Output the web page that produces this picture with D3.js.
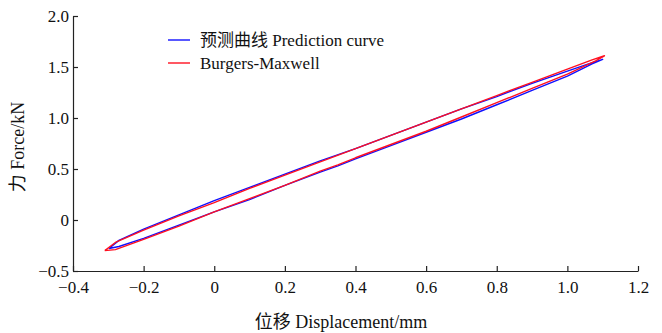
<!DOCTYPE html>
<html>
<head>
<meta charset="utf-8">
<script src="https://cdn.jsdelivr.net/npm/d3@7"></script>
<style>
  body { margin: 0; background: #fff; }
  text { font-family: "Liberation Serif", "Times New Roman", "Noto Sans CJK SC", serif; fill: #111; }
</style>
</head>
<body>
<script>
// loop branches: [displacement mm, force kN]
var predUpper = [[-0.298,-0.28],[-0.27,-0.20],[-0.2,-0.09],[-0.1,0.05],[0,0.19],[0.1,0.32],[0.2,0.45],[0.3,0.58],
  [0.4,0.70],[0.5,0.83],[0.6,0.96],[0.7,1.09],[0.8,1.21],[0.9,1.34],[1.0,1.46],[1.06,1.53],[1.10,1.575]];
var predLower = [[1.10,1.575],[1.07,1.53],[1.0,1.41],[0.9,1.27],[0.8,1.13],[0.7,0.99],[0.6,0.86],[0.5,0.73],
  [0.4,0.60],[0.35,0.53],[0.3,0.47],[0.2,0.34],[0.1,0.20],[0,0.08],[-0.1,-0.05],[-0.2,-0.18],[-0.27,-0.26],[-0.298,-0.28]];
var bmUpper = [[-0.31,-0.30],[-0.28,-0.22],[-0.2,-0.10],[-0.1,0.04],[0,0.17],[0.1,0.31],[0.2,0.44],[0.3,0.57],
  [0.4,0.70],[0.5,0.83],[0.6,0.96],[0.7,1.09],[0.8,1.22],[0.9,1.35],[1.0,1.48],[1.07,1.57],[1.105,1.61]];
var bmLower = [[1.105,1.61],[1.08,1.56],[1.0,1.43],[0.9,1.29],[0.8,1.15],[0.7,1.01],[0.6,0.87],[0.5,0.74],
  [0.4,0.61],[0.35,0.54],[0.3,0.48],[0.2,0.34],[0.1,0.21],[0,0.08],[-0.1,-0.06],[-0.2,-0.19],[-0.28,-0.29],[-0.31,-0.30]];

var xTicks = [-0.4, -0.2, 0, 0.2, 0.4, 0.6, 0.8, 1.0, 1.2];
var xTickLabels = ["\u22120.4", "\u22120.2", "0", "0.2", "0.4", "0.6", "0.8", "1.0", "1.2"];
var yTicks = [-0.5, 0, 0.5, 1.0, 1.5, 2.0];
var yTickLabels = ["\u22120.5", "0", "0.5", "1.0", "1.5", "2.0"];

var seriesNames = ["预测曲线 Prediction curve", "Burgers-Maxwell"];
var seriesColors = ["#1010ff", "#ff1020"];

var width = 662, height = 333;
var plotLeft = 73, plotRight = 638, plotTop = 16, plotBottom = 271;

var x = d3.scaleLinear().domain([-0.4, 1.2]).range([plotLeft, plotRight]);
var y = d3.scaleLinear().domain([-0.5, 2.0]).range([plotBottom, plotTop]);

var svg = d3.select("body").append("svg")
    .attr("width", width)
    .attr("height", height);

var line = d3.line()
    .x(function(d) { return x(d[0]); })
    .y(function(d) { return y(d[1]); });

var loops = [predUpper.concat(predLower), bmUpper.concat(bmLower)];
loops.forEach(function(pts, i) {
    svg.append("path")
        .attr("d", line(pts))
        .attr("fill", "none")
        .attr("stroke", seriesColors[i])
        .attr("stroke-width", 1.4)
        .attr("stroke-linejoin", "round");
});

// axes: ticks pointing inward
var xAxis = d3.axisBottom(x)
    .tickValues(xTicks)
    .tickSizeInner(-5).tickSizeOuter(0)
    .tickFormat(function(d, i) { return xTickLabels[i]; });
var gx = svg.append("g").attr("transform", "translate(0," + plotBottom + ")").call(xAxis);

var yAxis = d3.axisLeft(y)
    .tickValues(yTicks)
    .tickSizeInner(-5).tickSizeOuter(0)
    .tickFormat(function(d, i) { return yTickLabels[i]; });
var gy = svg.append("g").attr("transform", "translate(" + plotLeft + ",0)").call(yAxis);

[gx, gy].forEach(function(g) {
    g.select(".domain").attr("stroke", "#222").attr("stroke-width", 1.2);
    g.selectAll(".tick line").attr("stroke", "#222").attr("stroke-width", 1.2);
    g.selectAll(".tick text")
        .attr("fill", "#111")
        .style("font-family", '"Liberation Serif", serif')
        .style("font-size", "17px");
});
gx.selectAll(".tick text").attr("y", 10);
gy.selectAll(".tick text").attr("x", -4);

// axis titles
svg.append("text")
    .attr("x", 341).attr("y", 328)
    .attr("text-anchor", "middle")
    .style("font-size", "18px")
    .text("位移 Displacement/mm");

svg.append("text")
    .attr("transform", "translate(24," + 147 + ") rotate(-90)")
    .attr("text-anchor", "middle")
    .style("font-size", "18px")
    .text("力 Force/kN");

// legend
var legend = svg.append("g").attr("transform", "translate(168,40)");
seriesNames.forEach(function(name, i) {
    var row = legend.append("g").attr("transform", "translate(0," + i * 23 + ")");
    row.append("line")
        .attr("x1", 0).attr("x2", 22)
        .attr("stroke", seriesColors[i])
        .attr("stroke-width", 1.4);
    row.append("text")
        .attr("x", 32).attr("y", 6)
        .style("font-size", "17px")
        .text(name);
});
</script>
</body>
</html>
